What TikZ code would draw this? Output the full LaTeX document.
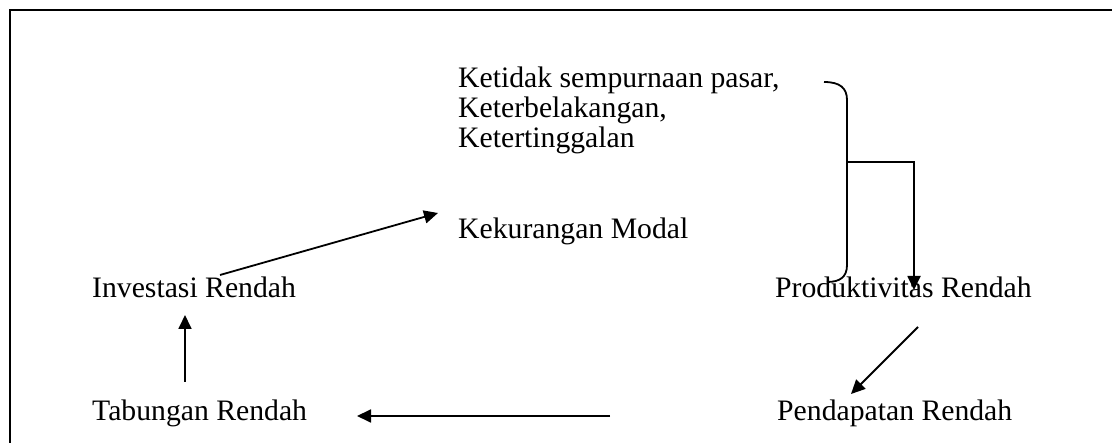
\documentclass[tikz,border=0pt]{standalone}
\usepackage{fontspec}
\setmainfont{Liberation Serif}
\usetikzlibrary{arrows.meta}
\tikzset{
  lbl/.style={anchor=base west, inner sep=0pt, font=\fontsize{29.7}{30}\selectfont},
  conn/.style={line width=1.8pt, -{Triangle[length=14pt,width=13pt]}},
  plain/.style={line width=1.8pt},
  frame/.style={line width=2pt}
}
\begin{document}
\begin{tikzpicture}[x=1pt,y=-1pt]
\useasboundingbox (0,0) rectangle (1112,443);
\fill[white] (0,0) rectangle (1112,443);
% frame (only top and left visible)
\draw[frame] (1112,10) -- (10,10) -- (10,443);
% texts
\node[lbl, align=left] (ket) at (458,148) {Ketidak sempurnaan pasar,\\Keterbelakangan,\\Ketertinggalan};
\node[lbl] (modal) at (458,239) {Kekurangan Modal};
\node[lbl] (inv) at (92,298) {Investasi Rendah};
\node[lbl] (prod) at (775,298) {Produktivitas Rendah};
\node[lbl] (tab) at (92,421) {Tabungan Rendah};
\node[lbl] (pend) at (777,421) {Pendapatan Rendah};
% connector end points
\coordinate (invA) at (220,275);
\coordinate (modalA) at (438,213);
\coordinate (tabA) at (185,382);
\coordinate (invB) at (185,315);
\coordinate (pendA) at (610,416);
\coordinate (tabB) at (357,416);
\coordinate (prodA) at (918,327);
\coordinate (pendB) at (851,394);
\coordinate (braceTop) at (824,82);
\coordinate (braceBot) at (827,282);
\coordinate (braceMid) at (847,162);
\coordinate (prodB) at (914,290);
% connectors
\draw[conn] (invA) -- (modalA);
\draw[conn] (tabA) -- (invB);
\draw[conn] (pendA) -- (tabB);
\draw[conn] (prodA) -- (pendB);
\draw[plain] (braceTop) .. controls (840,82) and (847,88) .. (847,100) -- (847,265) .. controls (847,277) and (840,282) .. (braceBot);
\draw[conn] (braceMid) -| (prodB);
\end{tikzpicture}
\end{document}
